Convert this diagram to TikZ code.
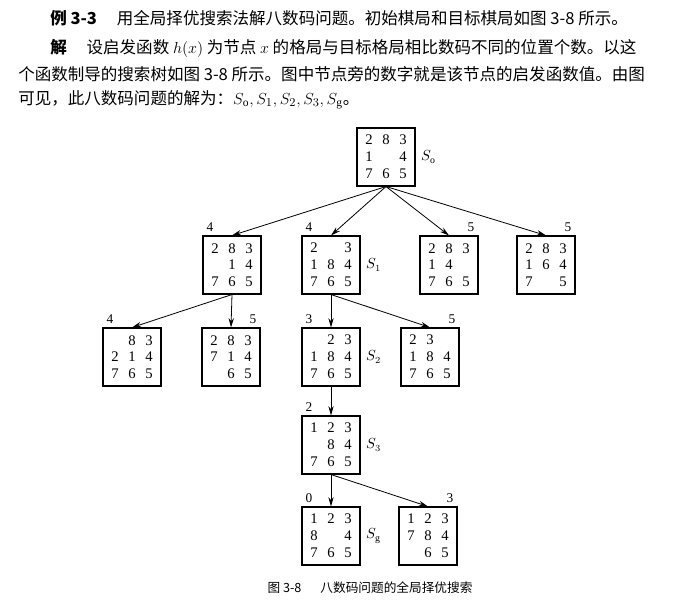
\documentclass[tikz,border=0pt]{standalone}
\usepackage{fontspec}
\setmainfont{Liberation Serif}
\newfontfamily\cjk{Noto Sans CJK SC}
\usetikzlibrary{arrows.meta}
\newcommand\grid[9]{\makebox[12.8pt]{#1}\makebox[12.8pt]{#2}\makebox[12.8pt]{#3}\\\makebox[12.8pt]{#4}\makebox[12.8pt]{#5}\makebox[12.8pt]{#6}\\\makebox[12.8pt]{#7}\makebox[12.8pt]{#8}\makebox[12.8pt]{#9}}
\tikzset{
 puz/.style={draw,line width=0.8pt,minimum width=43.5pt,minimum height=43.5pt,inner sep=0pt,align=center,font=\fontsize{11}{12.6}\selectfont},
 hval/.style={font=\fontsize{10}{11}\selectfont,inner sep=0pt},
 slab/.style={font=\fontsize{10.5}{11}\selectfont,inner sep=0pt,anchor=west},
 arr/.style={-{Stealth[length=7pt,width=4pt]},line width=0.6pt},
 txt/.style={anchor=west,inner sep=0pt,font=\cjk\fontsize{12.4}{13}\selectfont}
}
\begin{document}
\begin{tikzpicture}[x=0.75pt,y=-0.75pt]
\useasboundingbox (0,0) rectangle (687,605);
\node[txt] (t1) at (50,18) {\textbf{例 3-3}\hspace{1.2em}用全局择优搜索法解八数码问题。初始棋局和目标棋局如图 3-8 所示。};
\node[txt] (t2) at (50,48) {\textbf{解}\hspace{1.2em}设启发函数 $h(x)$ 为节点 $x$ 的格局与目标格局相比数码不同的位置个数。以这};
\node[txt] (t3) at (18,74) {个函数制导的搜索树如图 3-8 所示。图中节点旁的数字就是该节点的启发函数值。由图};
\node[txt] (t4) at (18,100) {可见，此八数码问题的解为：$S_{\mathrm o},S_1,S_2,S_3,S_{\mathrm g}$。};

\node[puz] (r) at (386,157) {\grid{2}{8}{3}{1}{}{4}{7}{6}{5}};
\node[puz] (a) at (232,265) {\grid{2}{8}{3}{}{1}{4}{7}{6}{5}};
\node[puz] (b) at (331,265) {\grid{2}{}{3}{1}{8}{4}{7}{6}{5}};
\node[puz] (c) at (449,265) {\grid{2}{8}{3}{1}{4}{}{7}{6}{5}};
\node[puz] (d) at (546,265) {\grid{2}{8}{3}{1}{6}{4}{7}{}{5}};
\node[puz] (e) at (132,357) {\grid{}{8}{3}{2}{1}{4}{7}{6}{5}};
\node[puz] (f) at (231,357) {\grid{2}{8}{3}{7}{1}{4}{}{6}{5}};
\node[puz] (g) at (331,357) {\grid{}{2}{3}{1}{8}{4}{7}{6}{5}};
\node[puz] (h) at (430,357) {\grid{2}{3}{}{1}{8}{4}{7}{6}{5}};
\node[puz] (i) at (331,445) {\grid{1}{2}{3}{}{8}{4}{7}{6}{5}};
\node[puz] (j) at (331,536) {\grid{1}{2}{3}{8}{}{4}{7}{6}{5}};
\node[puz] (k) at (428,536) {\grid{1}{2}{3}{7}{8}{4}{}{6}{5}};

\node[slab] (sr) at ([xshift=4pt]r.east) {$S_{\mathrm o}$};
\node[slab] (sb) at ([xshift=4pt]b.east) {$S_1$};
\node[slab] (sg) at ([xshift=4pt]g.east) {$S_2$};
\node[slab] (si) at ([xshift=4pt]i.east) {$S_3$};
\node[slab] (sj) at ([xshift=4pt]j.east) {$S_{\mathrm g}$};

\node[hval,anchor=south west] (va) at ([xshift=3pt,yshift=3pt]a.north west) {4};
\node[hval,anchor=south west] (vb) at ([xshift=3pt,yshift=3pt]b.north west) {4};
\node[hval,anchor=south east] (vc) at ([xshift=-3pt,yshift=3pt]c.north east) {5};
\node[hval,anchor=south east] (vd) at ([xshift=-3pt,yshift=3pt]d.north east) {5};
\node[hval,anchor=south west] (ve) at ([xshift=3pt,yshift=3pt]e.north west) {4};
\node[hval,anchor=south east] (vf) at ([xshift=-3pt,yshift=3pt]f.north east) {5};
\node[hval,anchor=south west] (vg) at ([xshift=3pt,yshift=3pt]g.north west) {3};
\node[hval,anchor=south east] (vh) at ([xshift=-3pt,yshift=3pt]h.north east) {5};
\node[hval,anchor=south west] (vi) at ([xshift=3pt,yshift=3pt]i.north west) {2};
\node[hval,anchor=south west] (vj) at ([xshift=3pt,yshift=3pt]j.north west) {0};
\node[hval,anchor=south east] (vk) at ([xshift=-3pt,yshift=3pt]k.north east) {3};

\foreach \p/\c in {r/a,r/b,r/c,r/d,a/e,a/f,b/g,b/h,g/i,i/j,i/k}
  \draw[arr] (\p.south) -- (\c.north);

\node[inner sep=0pt,font=\cjk\fontsize{9.5}{11}\selectfont] (cap) at (370,588) {图 3-8\hspace{1.5em}八数码问题的全局择优搜索};
\end{tikzpicture}
\end{document}
